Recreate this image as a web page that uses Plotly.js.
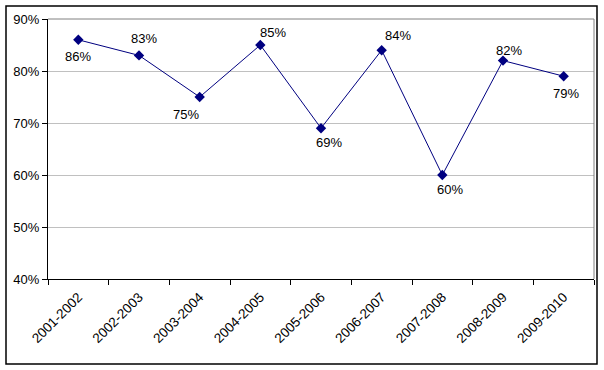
<!DOCTYPE html>
<html>
<head>
<meta charset="utf-8">
<script src="https://cdn.plot.ly/plotly-3.0.1.min.js"></script>
<style>
html,body{margin:0;padding:0;background:#fff;}
#chart{width:604px;height:370px;}
</style>
</head>
<body>
<div id="chart"></div>
<script>
const seasons = ['2001-2002','2002-2003','2003-2004','2004-2005','2005-2006','2006-2007','2007-2008','2008-2009','2009-2010'];
const rates = [86, 83, 75, 85, 69, 84, 60, 82, 79];
const labels = ['86%','83%','75%','85%','69%','84%','60%','82%','79%'];
// label pixel offsets (style only)
const labelDx = [0, 5, -14, 13, 8, 16, 8, 6, 2];
const labelDy = [-17, 17, -17, 13, -14, 15, -14, 10, -17];

const trace = {
  x: seasons,
  y: rates,
  type: 'scatter',
  mode: 'lines+markers',
  line: {color: '#000080', width: 1},
  marker: {symbol: 'diamond', size: 8, color: '#000080'},
  hoverinfo: 'none'
};

const annotations = seasons.map((s, i) => ({
  x: s, y: rates[i], xref: 'x', yref: 'y',
  text: labels[i], showarrow: false,
  xshift: labelDx[i], yshift: labelDy[i],
  font: {family: 'Liberation Sans, Arial, sans-serif', size: 13, color: '#000'}
}));

const px = (v) => (v - 48) / 546;
const py = (v) => (279 - v) / 260;

const layout = {
  width: 604, height: 370,
  margin: {l: 48, r: 10, t: 19, b: 91},
  paper_bgcolor: '#fff',
  plot_bgcolor: '#fff',
  showlegend: false,
  font: {family: 'Liberation Sans, Arial, sans-serif', size: 13, color: '#000'},
  xaxis: {
    type: 'category',
    tickson: 'boundaries',
    ticks: 'outside', ticklen: 5, tickcolor: '#000', tickwidth: 1,
    showline: true, linecolor: '#000', linewidth: 1,
    showgrid: false, zeroline: false,
    tickangle: -45,
    tickfont: {size: 13.5},
    ticklabelstandoff: 4,
    range: [-0.5, 8.5],
    fixedrange: true
  },
  yaxis: {
    range: [40, 90],
    dtick: 10,
    ticksuffix: '%',
    ticks: 'outside', ticklen: 5, tickcolor: '#000',
    showline: true, linecolor: '#000', linewidth: 1,
    showgrid: true, gridcolor: '#c0c0c0', gridwidth: 1,
    zeroline: false,
    tickfont: {size: 13},
    fixedrange: true
  },
  annotations: annotations,
  shapes: [
    {type: 'line', xref: 'paper', yref: 'paper', x0: 0, x1: 1, y0: 1, y1: 1, line: {color: '#808080', width: 1}},
    {type: 'line', xref: 'paper', yref: 'paper', x0: 1, x1: 1, y0: 0, y1: 1, line: {color: '#808080', width: 1}},
    {type: 'rect', xref: 'paper', yref: 'paper', x0: px(6), x1: px(597), y0: py(364), y1: py(6), line: {color: '#000', width: 1.5}, fillcolor: 'rgba(0,0,0,0)', layer: 'below'}
  ]
};

Plotly.newPlot('chart', [trace], layout, {staticPlot: true, displayModeBar: false});
</script>
</body>
</html>
